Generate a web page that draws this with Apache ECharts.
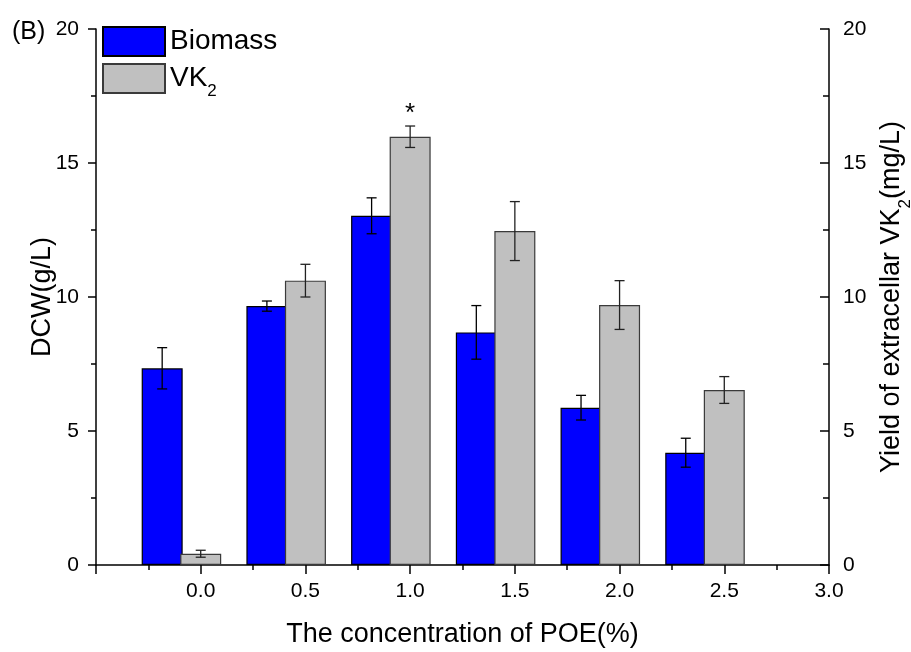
<!DOCTYPE html>
<html>
<head>
<meta charset="utf-8">
<script src="https://cdn.jsdelivr.net/npm/echarts@6/dist/echarts.min.js"></script>
<style>
    html, body {margin: 0; padding: 0; background: #fff;}
    #main {width: 911px; height: 652px;}
</style>
</head>
<body>
<div id="main"></div>
<script>
// POE concentration (%)
var concentrations = [0.0, 0.5, 1.0, 1.5, 2.0, 2.5];
// DCW (g/L)
var biomass = [7.34, 9.66, 13.03, 8.68, 5.87, 4.19];
var biomassErr = [0.77, 0.19, 0.67, 1.00, 0.46, 0.54];
// extracellular VK2 (mg/L)
var vk2 = [0.42, 10.61, 15.98, 12.46, 9.70, 6.53];
var vk2Err = [0.13, 0.61, 0.40, 1.10, 0.91, 0.50];
var vk2Marks = ['', '', '*', '', '', ''];

var FONT = 'Arial, "Liberation Sans", sans-serif';
var biomassShift = 0.184; // biomass column sits left of the tick

function biomassData() {
    var out = [];
    for (var i = 0; i < concentrations.length; i++) {
        out.push([concentrations[i] - biomassShift, biomass[i], biomassErr[i]]);
    }
    return out;
}

function vk2Data() {
    var out = [];
    for (var i = 0; i < concentrations.length; i++) {
        out.push([concentrations[i], vk2[i], vk2Err[i]]);
    }
    return out;
}

/* error bar with caps, plus the significance mark if any */
function errorBar(color, marks) {
    return function (params, api) {
        var x = api.value(0), v = api.value(1), e = api.value(2);
        var top = api.coord([x, v + e]);
        var bot = api.coord([x, v - e]);
        var cap = 5;
        var st = {stroke: color, lineWidth: 1.3, fill: null};
        var children = [
            {type: 'line', shape: {x1: top[0], y1: top[1], x2: bot[0], y2: bot[1]}, style: st},
            {type: 'line', shape: {x1: top[0] - cap, y1: top[1], x2: top[0] + cap, y2: top[1]}, style: st},
            {type: 'line', shape: {x1: bot[0] - cap, y1: bot[1], x2: bot[0] + cap, y2: bot[1]}, style: st}
        ];
        var m = marks ? marks[params.dataIndex] : '';
        if (m) {
            children.push({
                type: 'text',
                style: {
                    text: m, x: top[0], y: top[1] - 12,
                    align: 'center', verticalAlign: 'middle',
                    font: '26px ' + FONT, fill: '#000'
                }
            });
        }
        return {type: 'group', children: children};
    };
}

var blackLine = {color: '#000', width: 1.5};

var option = {
    animation: false,
    backgroundColor: '#fff',
    textStyle: {fontFamily: FONT},
    grid: {left: 96, right: 82, top: 29, bottom: 87, containLabel: false, outerBoundsMode: 'none'},
    title: {
        text: '(B)', left: 12, top: 20, padding: 0,
        textStyle: {fontSize: 25, fontWeight: 'normal', color: '#000', fontFamily: FONT}
    },
    legend: {
        orient: 'vertical', left: 102, top: 26, padding: 0,
        itemWidth: 62, itemHeight: 29, itemGap: 6,
        icon: 'rect',
        data: ['Biomass', 'VK2'],
        formatter: function (n) {
            return n === 'VK2' ? 'VK{sub|2}' : n;
        },
        textStyle: {
            fontSize: 28, color: '#000', fontFamily: FONT,
            rich: {sub: {fontSize: 17, fontFamily: FONT, color: '#000', padding: [26, 0, 0, 0]}}
        }
    },
    xAxis: {
        type: 'value', min: -0.5, max: 3, interval: 0.5,
        name: 'The concentration of POE(%)', nameLocation: 'middle', nameGap: 56,
        nameMoveOverlap: false,
        nameTextStyle: {fontSize: 27, color: '#000', fontFamily: FONT},
        axisLine: {show: true, onZero: false, lineStyle: blackLine},
        axisTick: {show: true, length: 9, lineStyle: blackLine},
        minorTick: {show: true, splitNumber: 2, length: 5, lineStyle: blackLine},
        axisLabel: {
            fontSize: 21, color: '#000', margin: 16, fontFamily: FONT,
            formatter: function (v) {
                return v < 0 ? '' : v.toFixed(1);
            }
        },
        splitLine: {show: false}
    },
    yAxis: [
        {
            type: 'value', min: 0, max: 20, interval: 5, position: 'left',
            name: 'DCW(g/L)', nameLocation: 'middle', nameGap: 40,
            nameMoveOverlap: false,
            nameTextStyle: {fontSize: 27, color: '#000', fontFamily: FONT},
            axisLine: {show: true, onZero: false, lineStyle: blackLine},
            axisTick: {show: true, inside: false, length: 8, lineStyle: blackLine},
            minorTick: {show: true, splitNumber: 2, length: 5, lineStyle: blackLine},
            axisLabel: {fontSize: 21, color: '#000', margin: 17, fontFamily: FONT},
            splitLine: {show: false}
        },
        {
            type: 'value', min: 0, max: 20, interval: 5, position: 'right',
            name: 'Yield of extracellar VK{sub|2}(mg/L)', nameLocation: 'middle', nameGap: 40,
            nameMoveOverlap: false,
            nameTextStyle: {
                fontSize: 27, color: '#000', fontFamily: FONT,
                rich: {sub: {fontSize: 17, fontFamily: FONT, color: '#000', padding: [28, 0, 0, 0]}}
            },
            axisLine: {show: true, onZero: false, lineStyle: blackLine},
            axisTick: {show: true, inside: true, length: 9, lineStyle: blackLine},
            minorTick: {show: true, splitNumber: 2, length: 6, lineStyle: blackLine},
            axisLabel: {fontSize: 21, color: '#000', margin: 14, fontFamily: FONT},
            splitLine: {show: false}
        }
    ],
    series: [
        {
            name: 'Biomass', type: 'bar', yAxisIndex: 0,
            barWidth: 41, barGap: '-100%',
            data: biomassData(),
            itemStyle: {color: '#0000ff', borderColor: '#000', borderWidth: 1.2},
            z: 2
        },
        {
            name: 'VK2', type: 'bar', yAxisIndex: 1,
            barWidth: 41, barGap: '-100%',
            data: vk2Data(),
            itemStyle: {color: '#c0c0c0', borderColor: '#3a3a3a', borderWidth: 1.2},
            z: 3
        },
        {
            type: 'custom', yAxisIndex: 0, z: 5,
            renderItem: errorBar('#000', null),
            data: biomassData(),
            silent: true
        },
        {
            type: 'custom', yAxisIndex: 1, z: 5,
            renderItem: errorBar('#222', vk2Marks),
            data: vk2Data(),
            silent: true
        }
    ]
};

var chart = echarts.init(document.getElementById('main'));
chart.setOption(option);
</script>
</body>
</html>
